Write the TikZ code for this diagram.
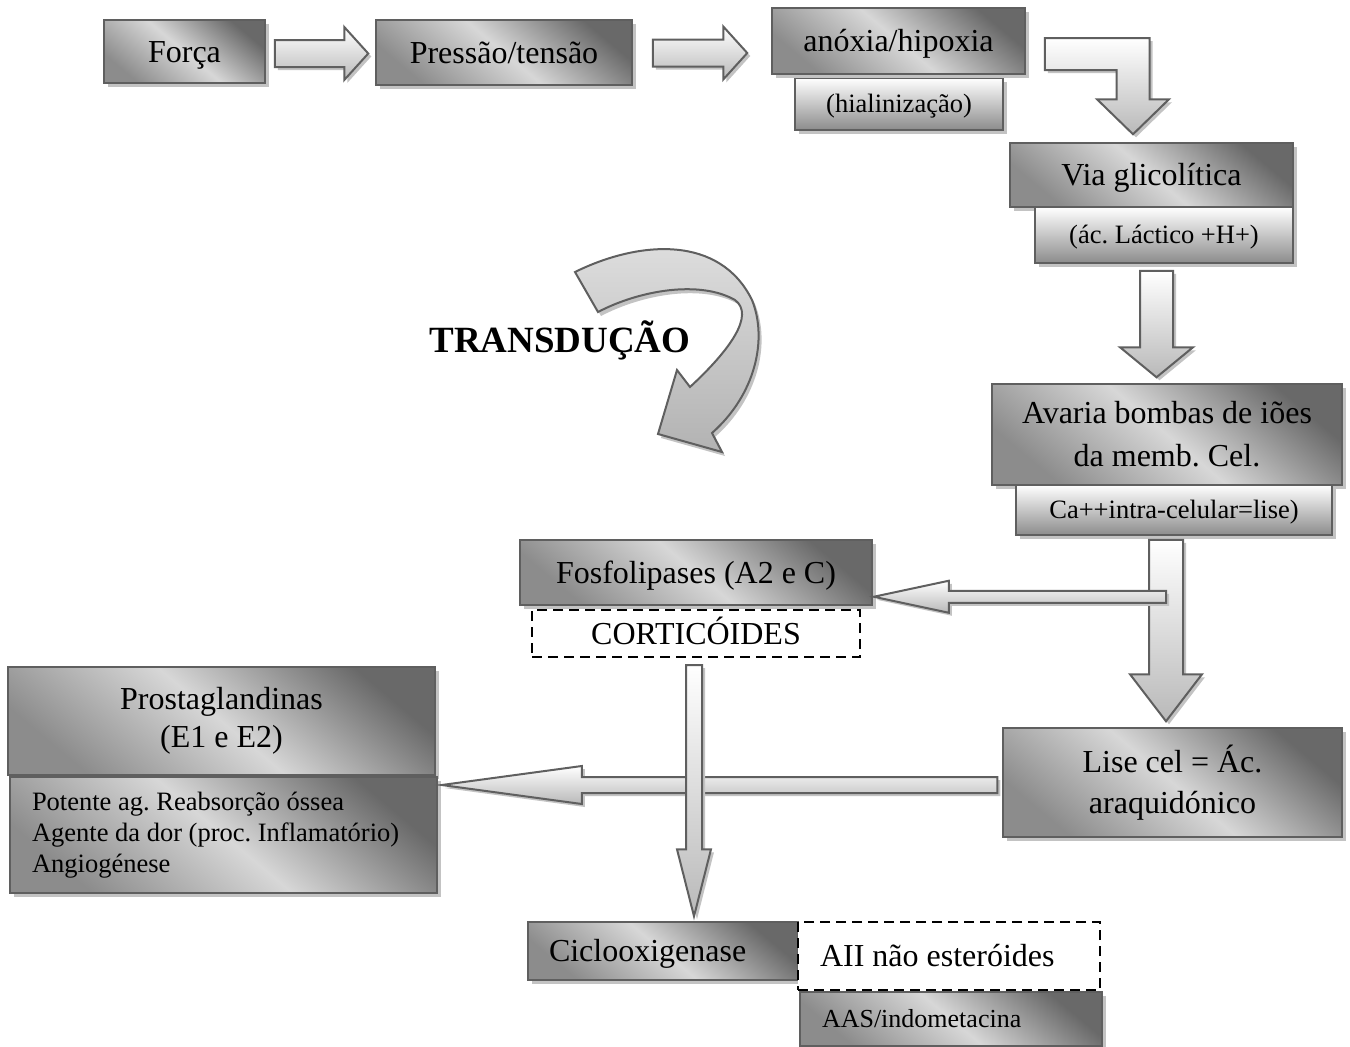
\documentclass[tikz,border=0pt]{standalone}
\usepackage{fontspec}
\setmainfont{Liberation Serif}
\usetikzlibrary{calc,shadows}
\definecolor{flowdark}{RGB}{105,105,105}
\definecolor{flowmid}{RGB}{140,140,140}
\definecolor{flowlight}{RGB}{215,215,215}
\definecolor{flowline}{RGB}{95,95,95}
\definecolor{flowshadow}{RGB}{195,195,195}
\frenchspacing

% block arrow: tail, tip, half shaft, half head, head length
\newcommand{\blockarrow}[5]{%
  \coordinate (hb) at ($#2!#5pt!#1$);
  \draw[fatarrow] ($#1!#3pt!90:#2$) -- ($(hb)!#3pt!90:#2$) -- ($(hb)!#4pt!90:#2$) -- #2
    -- ($(hb)!#4pt!-90:#2$) -- ($(hb)!#3pt!-90:#2$) -- ($#1!#3pt!-90:#2$) -- cycle;}

\begin{document}
\begin{tikzpicture}[x=1pt, y=-1pt,
    flowbox/.style={draw=flowline, line width=1.5pt, top color=flowdark, bottom color=flowmid,
                    middle color=flowlight, shading angle=-40, inner sep=0pt, align=center,
                    drop shadow={shadow xshift=4pt, shadow yshift=-4pt, fill=flowshadow, opacity=1},
                    font=\fontsize{32}{40}\selectfont},
    subbox/.style={flowbox, top color=white, bottom color=flowmid, font=\fontsize{26.5}{31}\selectfont},
    dashbox/.style={draw=black, line width=2pt, dash pattern=on 10pt off 6pt, fill=white,
                    inner sep=0pt, font=\fontsize{32}{40}\selectfont},
    oneline/.style={text height=21pt, text depth=0pt},
    subline/.style={text height=17.5pt, text depth=0pt},
    fatarrow/.style={draw=flowline, line width=2pt, line join=miter, top color=white, bottom color=gray!55,
                     drop shadow={shadow xshift=3pt, shadow yshift=-3pt, fill=flowshadow, opacity=1}},
    curlarrow/.style={draw=flowline, line width=2pt, line join=miter, top color=gray!25, bottom color=gray!60,
                      drop shadow={shadow xshift=3pt, shadow yshift=-4pt, fill=flowshadow, opacity=1}}
]
\useasboundingbox (0,0) rectangle (1350,1047);

% top row
\node[flowbox, oneline, minimum width=161, minimum height=63] (force) at (184.5,51.5) {Força};
\node[flowbox, oneline, minimum width=256, minimum height=65] (pressure) at (504,52.5) {Pressão/tensão};
\node[subbox, subline, minimum width=208, minimum height=52] (hyalin) at (899,104) {(hialinização)};
\node[flowbox, oneline, minimum width=253, minimum height=66] (anoxia) at (898.5,41) {anóxia/hipoxia};

% right column
\node[flowbox, oneline, minimum width=283, minimum height=64] (glyco) at (1151.5,175) {Via glicolítica};
\node[subbox, subline, minimum width=258, minimum height=56] (lactic) at (1164,235) {(ác. Láctico +H+)};
\node[flowbox, minimum width=350, minimum height=101, font=\fontsize{32}{43}\selectfont] (pumps) at (1167,434.5)
    {Avaria bombas de iões\\da memb. Cel.};
\node[subbox, subline, minimum width=316, minimum height=50] (calcium) at (1174,510) {Ca++intra-celular=lise)};
\node[flowbox, minimum width=339, minimum height=109, font=\fontsize{32}{41}\selectfont] (lyse) at (1172.5,782.5)
    {Lise cel = Ác.\\araquidónico};

% middle and left
\node[flowbox, oneline, minimum width=352, minimum height=65] (phospho) at (696,572.5) {Fosfolipases (A2 e C)};
\node[dashbox, oneline, minimum width=328, minimum height=47] (cortico) at (696,633.5) {CORTICÓIDES};
\node[flowbox, minimum width=427, minimum height=108, font=\fontsize{32}{38}\selectfont] (prosta) at (221.5,721)
    {Prostaglandinas\\(E1 e E2)};
\node[flowbox, minimum width=427, minimum height=116, text width=383, align=flush left,
      font=\fontsize{26.5}{31}\selectfont] (effects) at (223.5,835)
    {Potente ag. Reabsorção óssea\\Agente da dor (proc. Inflamatório)\\Angiogénese};

% bottom
\node[flowbox, oneline, minimum width=270, minimum height=58, text width=228, align=flush left] (cox) at (663,951)
    {Ciclooxigenase};
\node[dashbox, oneline, minimum width=302, minimum height=68, text width=258, align=flush left] (nsaid) at (949,956)
    {AII não esteróides};
\node[flowbox, subline, minimum width=302, minimum height=54, text width=258, align=flush left,
      font=\fontsize{26}{30}\selectfont] (aas) at (951,1019) {AAS/indometacina};

% arrows
\coordinate (a1t) at ($(force.east)+(9,2)$);
\coordinate (a1h) at ($(pressure.west)+(-7,1)$);
\blockarrow{(a1t)}{(a1h)}{13.5}{26.5}{24}
\coordinate (a2t) at ($(pressure.east)+(20,0.5)$);
\coordinate (a2h) at ($(anoxia.west)+(-24,12)$);
\blockarrow{(a2t)}{(a2h)}{13.5}{26.5}{24}

\coordinate (bt) at ($(anoxia.east)+(19,13)$);
\coordinate (bp) at ($(glyco.north)+(-18.5,-8)$);
\draw[fatarrow] ($(bt)+(0,-16)$) -- ($(bp|-bt)+(16.5,-16)$) -- ($(bp)+(16.5,-35)$) -- ($(bp)+(36,-35)$)
    -- (bp) -- ($(bp)+(-36,-35)$) -- ($(bp)+(-16.5,-35)$) -- ($(bp|-bt)+(-16.5,16)$) -- ($(bt)+(0,16)$) -- cycle;

\coordinate (a3t) at ($(lactic.south)+(-7.5,7)$);
\coordinate (a3h) at ($(pumps.north)+(-10.5,-6)$);
\blockarrow{(a3t)}{(a3h)}{16.5}{36.5}{30}

\coordinate (a4t) at ($(calcium.south)+(-8,4)$);
\coordinate (a4h) at ($(lyse.north)+(-6.5,-6)$);
\blockarrow{(a4t)}{(a4h)}{17}{36}{47}

\coordinate (a5h) at ($(phospho.south east)+(1,-9)$);
\coordinate (a5t) at (a4t |- a5h);
\blockarrow{(a5t)}{(a5h)}{6}{16}{75}

\coordinate (a7t) at ($(lyse.west)+(-5,2.5)$);
\coordinate (a7h) at ($(effects.east |- a7t)+(4,0)$);
\blockarrow{(a7t)}{(a7h)}{8}{19}{140}

\coordinate (a6t) at ($(cortico.south)+(-2,7)$);
\coordinate (a6h) at ($(a6t |- cox.north)+(0,-5)$);
\blockarrow{(a6t)}{(a6h)}{8}{17}{67}

% transduction
\draw[curlarrow] (575,272) .. controls (640,240) and (720,235) .. (752,300)
    .. controls (768,340) and (755,395) .. (712,433) -- (722,452) -- (658,434) -- (677,370) -- (690,387)
    .. controls (730,350) and (755,315) .. (735,300) .. controls (700,280) and (640,290) .. (598,312) -- cycle;
\node[font=\fontsize{37}{44}\selectfont\bfseries, anchor=base] (transd) at (560,352) {TRANSDUÇÃO};
\end{tikzpicture}
\end{document}
